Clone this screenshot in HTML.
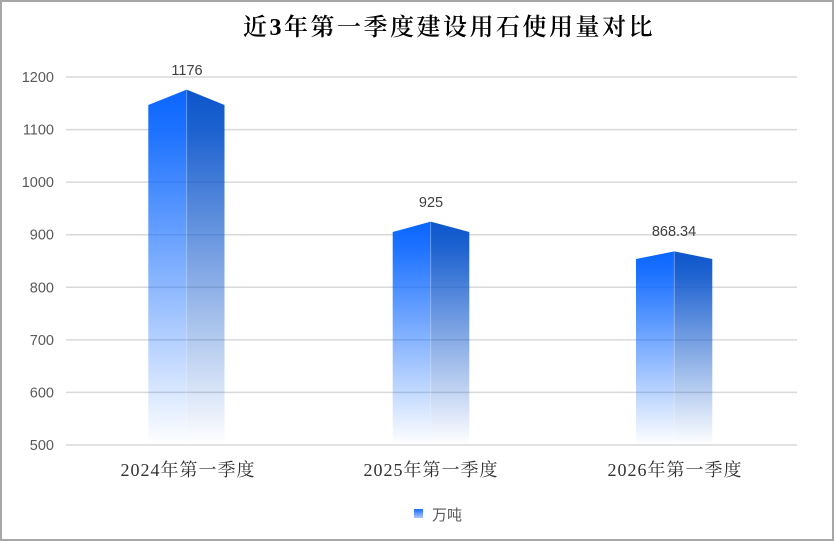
<!DOCTYPE html>
<html><head><meta charset="utf-8"><style>
html,body{margin:0;padding:0;background:#fff;}
svg{display:block;}
</style></head><body>
<svg width="834" height="541" viewBox="0 0 834 541" xmlns="http://www.w3.org/2000/svg">
<defs>
<linearGradient id="gl" x1="0" y1="0" x2="0" y2="1">
<stop offset="0" stop-color="#0a66ff" stop-opacity="1"/>
<stop offset="0.12" stop-color="#0a66ff" stop-opacity="0.92"/>
<stop offset="1" stop-color="#0a66ff" stop-opacity="0"/>
</linearGradient>
<linearGradient id="gr" x1="0" y1="0" x2="0" y2="1">
<stop offset="0" stop-color="#0b55cc" stop-opacity="1"/>
<stop offset="0.12" stop-color="#0b55cc" stop-opacity="0.92"/>
<stop offset="1" stop-color="#0b55cc" stop-opacity="0"/>
</linearGradient>
<linearGradient id="lg" x1="0" y1="0" x2="0" y2="1">
<stop offset="0" stop-color="#1a6cff"/>
<stop offset="1" stop-color="#a9c8ff"/>
</linearGradient>
</defs>
<rect x="0" y="0" width="834" height="541" fill="#fff"/>
<rect x="1" y="1" width="832" height="539" fill="none" stroke="#a6a6a6" stroke-width="2"/>
<text x="449" y="35" text-anchor="middle" font-family="'Liberation Serif','Noto Serif CJK SC',serif" font-size="24" font-weight="600" letter-spacing="2.5" fill="#000">近3年第一季度建设用石使用量对比</text>
<g stroke="#d9d9d9" stroke-width="1.5">
<line x1="66" y1="77" x2="797" y2="77"/>
<line x1="66" y1="129.6" x2="797" y2="129.6"/>
<line x1="66" y1="182.1" x2="797" y2="182.1"/>
<line x1="66" y1="234.7" x2="797" y2="234.7"/>
<line x1="66" y1="287.3" x2="797" y2="287.3"/>
<line x1="66" y1="339.9" x2="797" y2="339.9"/>
<line x1="66" y1="392.4" x2="797" y2="392.4"/>
<line x1="66" y1="445" x2="797" y2="445"/>
</g>
<g font-family="'Liberation Sans',sans-serif" font-size="14.5" fill="#595959" text-anchor="end">
<text x="54" y="82">1200</text>
<text x="54" y="134.6">1100</text>
<text x="54" y="187.1">1000</text>
<text x="54" y="239.7">900</text>
<text x="54" y="292.3">800</text>
<text x="54" y="344.9">700</text>
<text x="54" y="397.4">600</text>
<text x="54" y="450">500</text>
</g>
<!-- bar 1 -->
<polygon points="148.3,105 186.7,89.6 186.7,445 148.3,445" fill="url(#gl)"/>
<polygon points="186.7,89.6 224.5,105 224.5,445 186.7,445" fill="url(#gr)"/>
<line x1="186.7" y1="90" x2="186.7" y2="445" stroke="#ffffff" stroke-opacity="0.25" stroke-width="1"/>
<!-- bar 2 -->
<polygon points="392.7,232 430.7,221.6 430.7,445 392.7,445" fill="url(#gl)"/>
<polygon points="430.7,221.6 469.3,232 469.3,445 430.7,445" fill="url(#gr)"/>
<line x1="430.7" y1="222" x2="430.7" y2="445" stroke="#ffffff" stroke-opacity="0.25" stroke-width="1"/>
<!-- bar 3 -->
<polygon points="636,259 674.3,251.4 674.3,445 636,445" fill="url(#gl)"/>
<polygon points="674.3,251.4 712.3,259 712.3,445 674.3,445" fill="url(#gr)"/>
<line x1="674.3" y1="252" x2="674.3" y2="445" stroke="#ffffff" stroke-opacity="0.25" stroke-width="1"/>
<g font-family="'Liberation Sans',sans-serif" font-size="14.5" fill="#404040" text-anchor="middle">
<text x="187" y="75">1176</text>
<text x="431" y="207">925</text>
<text x="674" y="236">868.34</text>
</g>
<g font-family="'Liberation Serif','Noto Serif CJK SC',serif" font-size="18" fill="#333333" text-anchor="middle" letter-spacing="1">
<text x="188" y="476">2024年第一季度</text>
<text x="431" y="476">2025年第一季度</text>
<text x="675" y="476">2026年第一季度</text>
</g>
<rect x="414" y="509" width="9" height="9" fill="url(#lg)"/>
<text x="432" y="520" font-family="'Liberation Sans','Noto Sans CJK SC',sans-serif" font-size="15" fill="#595959">万吨</text>
</svg>
</body></html>
